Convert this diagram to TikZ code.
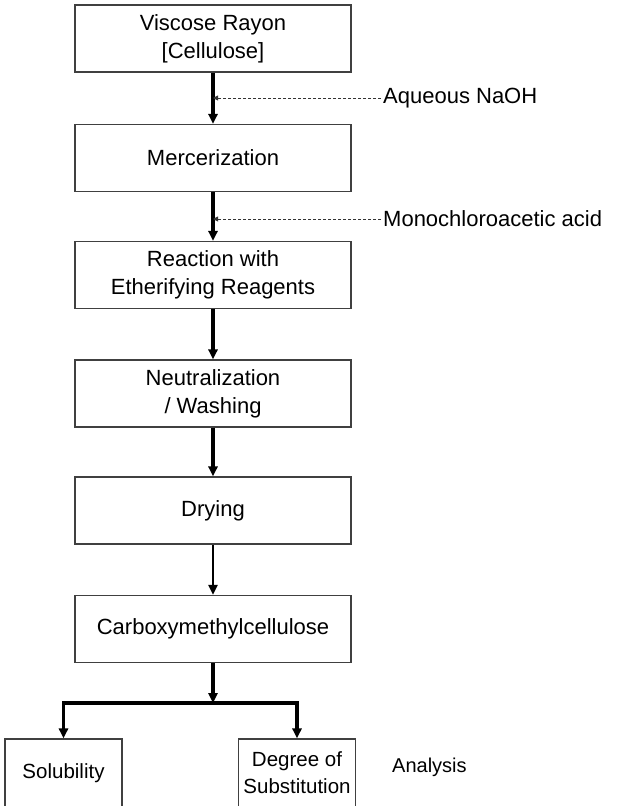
\documentclass[tikz,border=0pt]{standalone}
\usepackage{fontspec}
\setmainfont{Liberation Sans}
\usetikzlibrary{arrows.meta}

\begin{document}
\begin{tikzpicture}[x=1pt,y=-1pt,
        stage/.style={draw=black!75,line width=1.1pt,minimum width=276pt,minimum height=67pt,
            align=center,inner sep=0pt,font=\fontsize{22}{28}\selectfont},
        test/.style={stage,minimum width=117pt,minimum height=68pt,font=\fontsize{20.5}{27}\selectfont},
        flow/.style={line width=3.2pt,-{Triangle[length=10pt,width=9pt]}},
        thinflow/.style={flow,line width=2.4pt},
        feed/.style={draw=black!80,line width=0.9pt,dash pattern=on 3pt off 2pt,
            -{Triangle[length=5pt,width=5pt]}},
        side/.style={anchor=west,inner sep=2pt,font=\fontsize{22}{28}\selectfont}]
        \useasboundingbox (0,0) rectangle (617,806);
        \clip (0,0) rectangle (617,806);
        \node[stage] (rayon) at (213,38.5) {Viscose Rayon\\{[}Cellulose{]}};
        \node[stage] (merc) at (213,158) {Mercerization};
        \node[stage] (ether) at (213,275) {Reaction with\\Etherifying Reagents};
        \node[stage] (neut) at (213,393.5) {Neutralization\\/ Washing};
        \node[stage] (dry) at (213,510.5) {Drying};
        \node[stage] (cmc) at (213,629) {Carboxymethylcellulose};
        \node[test] (sol) at (63.5,773) {Solubility};
        \node[test] (dos) at (297,773) {Degree of\\Substitution};
        \node[side,font=\fontsize{20}{26}\selectfont] (ana) at (390,767) {Analysis};
        \node[side] (naoh) at (381,98) {Aqueous NaOH};
        \node[side] (mca) at (381,219) {Monochloroacetic acid};
        \coordinate (j1) at (213,98);
        \coordinate (j2) at (213,219);
        \coordinate (split) at (213,703);
        \draw[flow] (rayon) -- (merc);
        \draw[flow] (merc) -- (ether);
        \draw[flow] (ether) -- (neut);
        \draw[flow] (neut) -- (dry);
        \draw[thinflow] (dry) -- (cmc);
        \draw[feed] (naoh.west) -- (j1);
        \draw[feed] (mca.west) -- (j2);
        \draw[flow] (cmc) -- (split);
        \draw[flow] (split) -| (sol);
        \draw[flow] (split) -| (dos);
    \end{tikzpicture}
\end{document}
